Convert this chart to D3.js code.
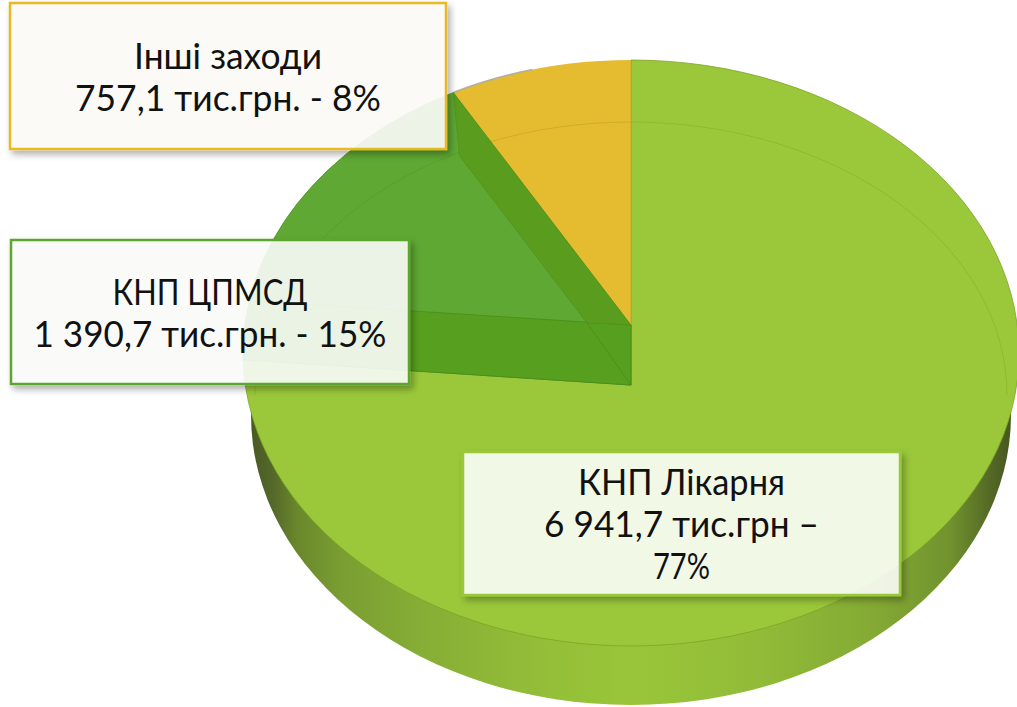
<!DOCTYPE html>
<html>
<head>
<meta charset="utf-8">
<script src="https://cdn.jsdelivr.net/npm/d3@7"></script>
<style>
  html, body { margin: 0; padding: 0; background: #fff; overflow: hidden; }
  svg { display: block; }
</style>
</head>
<body>
<div id="chart"></div>
<script>
const categories = ['КНП Лікарня', 'КНП ЦПМСД', 'Інші заходи'];
const values = [6941.7, 1390.7, 757.1];
const valueLabels = [
  ['6 941,7 тис.грн –', '77%'],
  ['1 390,7 тис.грн. - 15%'],
  ['757,1 тис.грн. - 8%']
];
const sliceColors = ['#9ac83a', '#5fa833', '#e5bb30'];
const borderColors = ['#9ac83a', '#5ba52f', '#e8b923'];
const boxes = [
  {x: 463, y: 452, w: 437, h: 143, fill: 'rgba(255,255,255,0.87)'},
  {x: 11, y: 240, w: 398, h: 144, fill: 'rgba(250,252,248,0.9)'},
  {x: 10, y: 3, w: 436, h: 146, fill: 'rgba(251,250,246,0.92)'}
];
// text widths measured on the reference, one list per label
const lineWidths = [[207, 275, 57], [195, 353], [188, 306]];

const width = 1017;
const height = 707;

// top ellipse of the pie, the slices do not share one apex in the picture
const cx = 631, cy = 353, rx = 388, ry = 293;
const apexLow = 385;
const apexHigh = 325;

const svg = d3.select('#chart').append('svg')
  .attr('width', width)
  .attr('height', height);

const defs = svg.append('defs');

const sideGradient = defs.append('linearGradient')
  .attr('id', 'side')
  .attr('gradientUnits', 'userSpaceOnUse')
  .attr('x1', cx - 380).attr('x2', cx + 380)
  .attr('y1', 0).attr('y2', 0);
[[0, '#4a5a22'], [0.03, '#55692a'], [0.06, '#6a872c'], [0.12, '#7a9e32'], [0.22, '#86ad35'], [0.36, '#92bc38'],
  [0.5, '#99c639'], [0.66, '#92bc38'], [0.82, '#84aa34'], [0.92, '#71922e'], [0.97, '#566b26'], [1, '#465620']]
  .forEach(s => sideGradient.append('stop').attr('offset', s[0]).attr('stop-color', s[1]));

// drop shadow that stays outside the half transparent boxes
const shadow = defs.append('filter')
  .attr('id', 'shadow')
  .attr('x', '-5%').attr('y', '-10%')
  .attr('width', '112%').attr('height', '125%');
shadow.append('feGaussianBlur').attr('in', 'SourceAlpha').attr('stdDeviation', 3.5).attr('result', 'blur');
shadow.append('feOffset').attr('in', 'blur').attr('dx', 3).attr('dy', 4).attr('result', 'moved');
shadow.append('feFlood').attr('flood-color', '#000').attr('flood-opacity', 0.34).attr('result', 'tint');
shadow.append('feComposite').attr('in', 'tint').attr('in2', 'moved').attr('operator', 'in').attr('result', 'dark');
shadow.append('feComposite').attr('in', 'dark').attr('in2', 'SourceAlpha').attr('operator', 'out').attr('result', 'outer');
const merge = shadow.append('feMerge');
merge.append('feMergeNode').attr('in', 'outer');
merge.append('feMergeNode').attr('in', 'SourceGraphic');

const slices = d3.pie().sort(null).startAngle(0).endAngle(2 * Math.PI)(values);

// where the ray from an apex at the given pie angle meets the top ellipse
function rim(angle, apexY) {
  const dx = rx * Math.sin(angle);
  const dy = -ry * Math.cos(angle);
  const oy = apexY - cy;
  const a = (dx * dx) / (rx * rx) + (dy * dy) / (ry * ry);
  const b = 2 * oy * dy / (ry * ry);
  const c = (oy * oy) / (ry * ry) - 1;
  const t = (-b + Math.sqrt(b * b - 4 * a * c)) / (2 * a);
  return [cx + dx * t, apexY + dy * t];
}

const limeStart = rim(slices[0].startAngle, apexLow);
const limeEnd = rim(slices[0].endAngle, apexLow);
const wedgeCorner = rim(slices[2].startAngle, apexHigh);
const yellowEnd = rim(slices[2].endAngle, apexHigh);

// side wall
svg.append('ellipse')
  .attr('cx', cx).attr('cy', 415)
  .attr('rx', 380).attr('ry', 290)
  .attr('fill', 'url(#side)');

// top faces
svg.append('path')
  .attr('d', `M${cx},${apexLow}L${limeStart}A${rx},${ry} 0 1 1 ${limeEnd}Z`)
  .attr('fill', sliceColors[0])
  .attr('stroke', '#7ba526')
  .attr('stroke-width', 0.8);

svg.append('path')
  .attr('d', `M${cx},${apexHigh}L${wedgeCorner}A${rx},${ry} 0 0 0 ${limeEnd}L${cx},${apexLow}Z`)
  .attr('fill', sliceColors[1])
  .attr('stroke', '#4f9222')
  .attr('stroke-width', 0.8);

svg.append('path')
  .attr('d', `M${cx},${apexHigh}L${wedgeCorner}A${rx},${ry} 0 0 1 ${yellowEnd}Z`)
  .attr('fill', sliceColors[2]);

// grey sliver along the yellow rim
const sliverEnd = rim(slices[2].startAngle + 0.24, apexHigh);
svg.append('path')
  .attr('d', `M${wedgeCorner}A${rx},${ry} 0 0 1 ${sliverEnd}`)
  .attr('fill', 'none')
  .attr('stroke', '#b5ae98')
  .attr('stroke-width', 1.5);

// bevel line on the top face
svg.append('path')
  .attr('d', `M${cx - 376},395A376,273 0 0 1 ${cx + 376},395`)
  .attr('fill', 'none')
  .attr('stroke', 'rgba(70,100,10,0.15)')
  .attr('stroke-width', 1);

// inner walls of the cut out wedge
const wallB = [
  [cx, apexHigh],
  [cx, apexLow],
  limeEnd,
  [limeEnd[0] + 10, limeEnd[1] - 59]
];
svg.append('polygon')
  .attr('points', wallB.join(' '))
  .attr('fill', '#57a01f')
  .attr('stroke', '#4a8c1c')
  .attr('stroke-width', 0.8);

const wallA = [
  wedgeCorner,
  [cx, apexHigh],
  [cx - 44, apexHigh - 2],
  [wedgeCorner[0] + 6, wedgeCorner[1] + 63]
];
svg.append('polygon')
  .attr('points', wallA.join(' '))
  .attr('fill', '#5a9c1e')
  .attr('stroke', '#4f8f1c')
  .attr('stroke-width', 0.6);

svg.append('line')
  .attr('x1', cx - 44).attr('y1', apexHigh - 2)
  .attr('x2', cx).attr('y2', apexLow)
  .attr('stroke', 'rgba(60,120,20,0.5)')
  .attr('stroke-width', 0.8);

svg.append('line')
  .attr('x1', cx).attr('y1', 60)
  .attr('x2', cx).attr('y2', apexHigh)
  .attr('stroke', '#b9a92f')
  .attr('stroke-width', 0.8);

// labels
const labelLines = categories.map((c, i) => [c].concat(valueLabels[i]));
const lineHeight = 42;

const label = svg.selectAll('g.label')
  .data([2, 1, 0])
  .enter()
  .append('g')
  .attr('class', 'label');

label.append('rect')
  .attr('x', i => boxes[i].x)
  .attr('y', i => boxes[i].y)
  .attr('width', i => boxes[i].w)
  .attr('height', i => boxes[i].h)
  .attr('fill', i => boxes[i].fill)
  .attr('stroke', i => borderColors[i])
  .attr('stroke-width', 2.5)
  .attr('filter', 'url(#shadow)');

label.each(function (i) {
  const lines = labelLines[i];
  const firstBase = boxes[i].y + boxes[i].h / 2 - (lines.length - 1) * lineHeight / 2 + 13.5;
  d3.select(this).selectAll('text')
    .data(lines)
    .enter()
    .append('text')
    .attr('x', boxes[i].x + boxes[i].w / 2)
    .attr('y', (d, j) => firstBase + j * lineHeight)
    .attr('text-anchor', 'middle')
    .attr('font-family', 'Lato, "Open Sans", sans-serif')
    .attr('font-size', 36)
    .attr('fill', '#111')
    .attr('textLength', (d, j) => lineWidths[i][j])
    .attr('lengthAdjust', 'spacingAndGlyphs')
    .text(d => d);
});
</script>
</body>
</html>
